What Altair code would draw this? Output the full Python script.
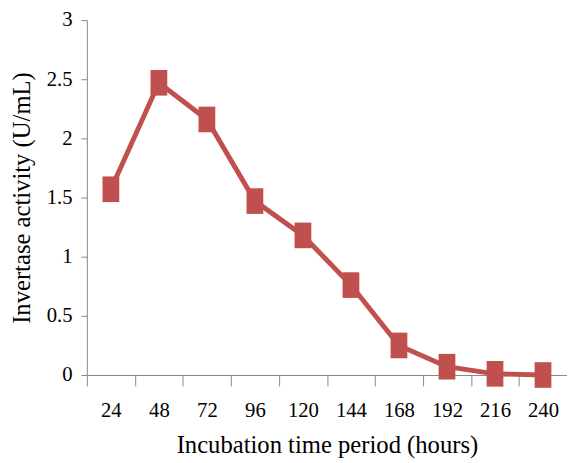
import altair as alt
import pandas as pd

hours = ["24", "48", "72", "96", "120", "144", "168", "192", "216", "240"]
activity = [1.57, 2.47, 2.16, 1.47, 1.18, 0.76, 0.25, 0.07, 0.01, 0.0]

df = pd.DataFrame({"hours": hours, "activity": activity})

color = "#C0504D"
font = "Liberation Serif"

x = alt.X(
    "hours:N",
    sort=hours,
    scale=alt.Scale(paddingInner=0, paddingOuter=0),
    axis=alt.Axis(
        title="Incubation time period (hours)",
        labelAngle=0,
        tickBand="extent",
        tickSize=11,
        labelPadding=14,
        titlePadding=13,
    ),
)
y = alt.Y(
    "activity:Q",
    scale=alt.Scale(domain=[0, 3]),
    axis=alt.Axis(
        title="Invertase activity (U/mL)",
        values=[0, 0.5, 1, 1.5, 2, 2.5, 3],
        format="~g",
        grid=False,
        tickSize=6,
        labelPadding=9,
        titlePadding=12,
    ),
)

rect_shape = "M-0.654,-1L0.654,-1L0.654,1L-0.654,1Z"

base = alt.Chart(df).encode(x=x, y=y)
line = base.mark_line(color=color, strokeWidth=5)
pts = base.mark_point(shape=rect_shape, filled=True, color=color, size=676, opacity=1)

chart = (
    (line + pts)
    .properties(
        width=487,
        height=360,
        autosize=alt.AutoSizeParams(type="none"),
        padding={"left": 80, "top": 9, "right": 0, "bottom": 86},
    )
    .configure_view(stroke=None)
    .configure_axis(
        domainColor="#888888",
        tickColor="#888888",
        labelFont=font,
        titleFont=font,
        labelFontSize=21,
        titleFontSize=25,
        labelColor="#000000",
        titleColor="#000000",
        titleFontWeight="normal",
        labelFlush=False,
        labelOverlap=False,
    )
)

chart.save("out.html", embed_options={"renderer": "svg", "actions": False})
